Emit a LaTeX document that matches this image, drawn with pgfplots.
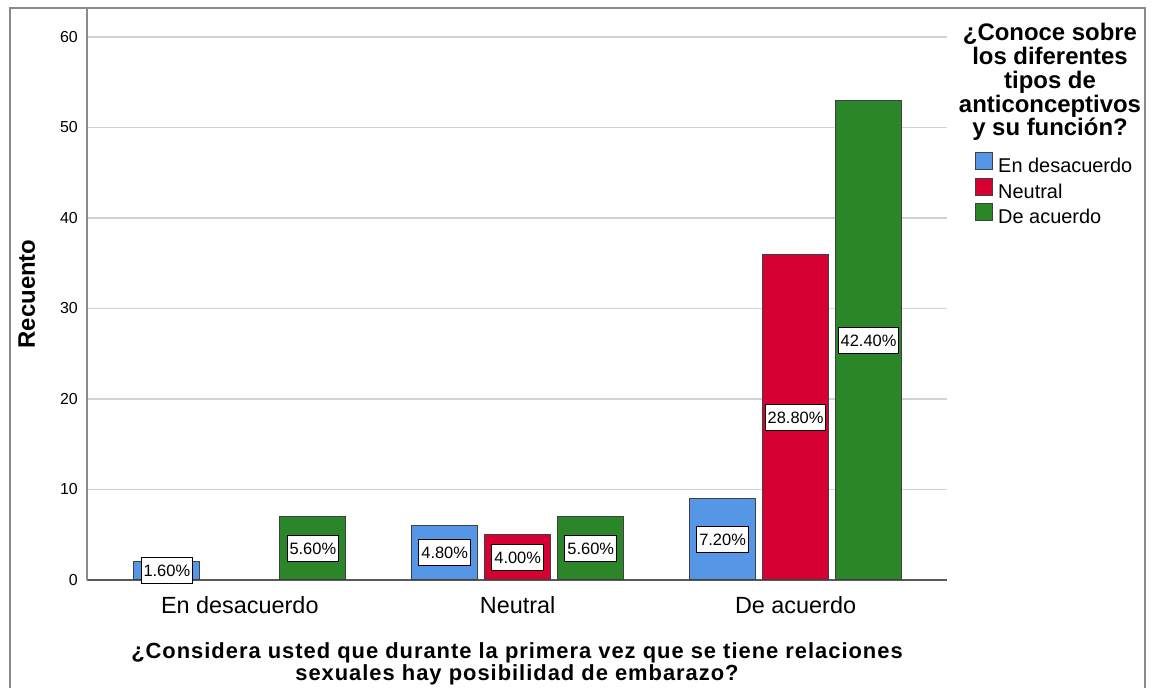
\documentclass[border=0pt]{standalone}
\usepackage{pgfplots}
\pgfplotsset{compat=1.18}
\usepackage{fontspec}
\setmainfont{Liberation Sans}
\newfontfamily\widesans[LetterSpace=4.5]{Liberation Sans}
\definecolor{cblue}{HTML}{5596E6}
\definecolor{cred}{HTML}{D60032}
\definecolor{cgreen}{HTML}{2A8629}
\definecolor{gridgray}{HTML}{D2D2D2}
\definecolor{framegray}{HTML}{8A8A8A}

\pgfplotsset{
  sq/.style={legend image code/.code={\draw[##1, line width=1bp] (0bp,-2bp) rectangle (17bp,15bp);}},
  pct/.style={
    nodes near coords, point meta=explicit symbolic,
    visualization depends on={y \as \rawy},
    every node near coord/.append style={anchor=center, fill=white, draw=black,
      line width=1bp, inner xsep=2.5bp, inner ysep=7bp, text height=12bp, text depth=0bp,
      font=\fontsize{16.5}{18}\selectfont, xshift=#1,
      shift={(axis direction cs:0,-\rawy/2)}}},
}

\begin{document}
\begin{tikzpicture}[x=1bp,y=1bp]
\useasboundingbox (0,0) rectangle (1155,688);
\fill[white] (0,0) rectangle (1155,688);
\draw[framegray, line width=1.3bp] (10,-20) -- (10,680) -- (1145,680) -- (1145,-20);

\begin{axis}[
  at={(87bp,108bp)}, anchor=south west,
  width=860bp, height=572bp, scale only axis,
  xmin=-0.55, xmax=2.545, ymin=0, ymax=63.2,
  axis x line*=bottom, axis y line*=left,
  x axis line style={-, draw=black!65, line width=1.2bp},
  y axis line style={-, draw=framegray, line width=1.2bp},
  xtick={0,1,2}, xticklabels={En desacuerdo, Neutral, De acuerdo},
  ytick={0,10,...,60},
  ymajorgrids, grid style={gridgray, line width=1.2bp},
  major tick length=0,
  /pgf/number format/assume math mode=true,
  xticklabel style={font=\fontsize{23.5}{26}\selectfont, anchor=center, yshift=-25bp},
  yticklabel style={font=\fontsize{16}{18}\selectfont, anchor=east, inner sep=0pt, xshift=-9bp},
  xlabel={¿Considera usted que durante la primera vez que se tiene relaciones\\sexuales hay posibilidad de embarazo?},
  xlabel style={at={(axis description cs:0.5,-0.147)}, anchor=center, align=center,
    font=\widesans\bfseries\fontsize{22}{22}\selectfont},
  ylabel={Recuento},
  ylabel style={at={(axis description cs:-0.07,0.5)}, anchor=center,
    font=\bfseries\fontsize{24}{26}\selectfont},
  clip=false,
  legend style={at={(rel axis cs:1.0326,0.7483)}, anchor=north west, draw=none, fill=none,
    inner sep=0pt, font=\fontsize{20}{22}\selectfont, row sep=1bp, column sep=5bp,
    nodes={inner sep=0pt, text height=14bp, text depth=4bp}},
  legend cell align=left,
]
\addplot[ybar, bar width=66bp, bar shift=-73bp, fill=cblue, draw=black!75, line width=1bp, sq, pct=-73bp]
  coordinates {(0,2) [1.60\%] (1,6) [4.80\%] (2,9) [7.20\%]};
\addlegendentry{En desacuerdo}
\addplot[ybar, bar width=66bp, bar shift=0bp, fill=cred, draw=black!75, line width=1bp, sq, pct=0bp]
  coordinates {(1,5) [4.00\%] (2,36) [28.80\%]};
\addlegendentry{Neutral}
\addplot[ybar, bar width=66bp, bar shift=73bp, fill=cgreen, draw=black!75, line width=1bp, sq, pct=73bp]
  coordinates {(0,7) [5.60\%] (1,7) [5.60\%] (2,53) [42.40\%]};
\addlegendentry{De acuerdo}
\end{axis}

\node[align=center, font=\bfseries\fontsize{24}{24}\selectfont] at (1050,606)
  {¿Conoce sobre\\los diferentes\\tipos de\\anticonceptivos\\y su función?};
\end{tikzpicture}
\end{document}
